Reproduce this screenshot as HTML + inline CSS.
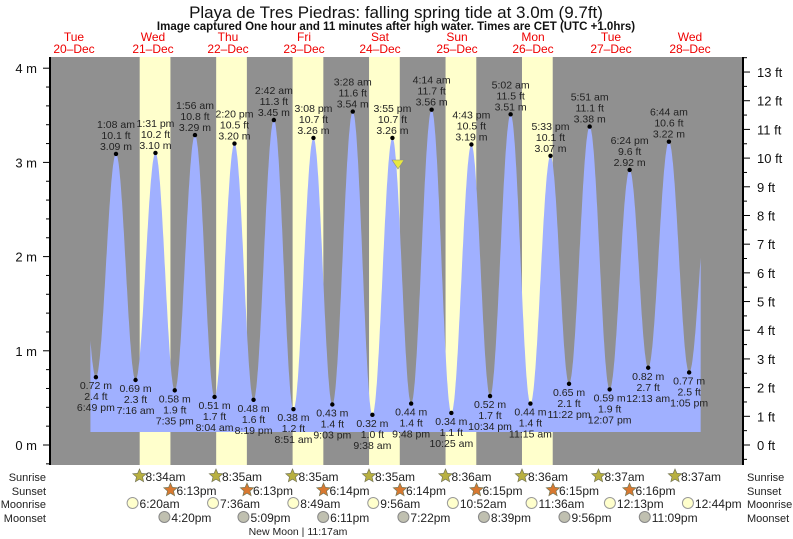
<!DOCTYPE html>
<html><head><meta charset="utf-8"><style>body{margin:0;background:#fff}svg{display:block;font-family:"Liberation Sans",sans-serif}</style></head>
<body><svg id="s" width="793" height="539" xmlns="http://www.w3.org/2000/svg"></svg>
<script>
const s=document.getElementById('s');let h='';
const X=t=>112.4+t*3.185;
const Y=m=>445-m*94.2;
h+='<rect x="50" y="57" width="693" height="408" fill="#909090"/>';
const sr=[8.57,8.58,8.58,8.58,8.6,8.6,8.62],ss=[18.22,18.22,18.23,18.23,18.25,18.25];
for(let d=0;d<6;d++){const a=X(d*24+sr[d]),b=X(d*24+ss[d]);h+=`<rect x="${a}" y="57" width="${b-a}" height="408" fill="#ffffcc"/>`;}
const ex=[[-5.18,.72,0],[1.13,3.09,1],[7.27,.69,0],[13.52,3.10,1],[19.58,.58,0],[25.93,3.29,1],[32.07,.51,0],[38.33,3.20,1],[44.32,.48,0],[50.7,3.45,1],[56.85,.38,0],[63.13,3.26,1],[69.05,.43,0],[75.47,3.54,1],[81.63,.32,0],[87.92,3.26,1],[93.8,.44,0],[100.23,3.56,1],[106.42,.34,0],[112.72,3.19,1],[118.57,.52,0],[125.03,3.51,1],[131.25,.44,0],[137.55,3.07,1],[143.37,.65,0],[149.85,3.38,1],[156.12,.59,0],[162.4,2.92,1],[168.22,.82,0],[174.73,3.22,1],[181.08,.77,0]];
const lab=[["6:49 pm","2.4 ft"],["1:08 am","10.1 ft"],["7:16 am","2.3 ft"],["1:31 pm","10.2 ft"],["7:35 pm","1.9 ft"],["1:56 am","10.8 ft"],["8:04 am","1.7 ft"],["2:20 pm","10.5 ft"],["8:19 pm","1.6 ft"],["2:42 am","11.3 ft"],["8:51 am","1.2 ft"],["3:08 pm","10.7 ft"],["9:03 pm","1.4 ft"],["3:28 am","11.6 ft"],["9:38 am","1.0 ft"],["3:55 pm","10.7 ft"],["9:48 pm","1.4 ft"],["4:14 am","11.7 ft"],["10:25 am","1.1 ft"],["4:43 pm","10.5 ft"],["10:34 pm","1.7 ft"],["5:02 am","11.5 ft"],["11:15 am","1.4 ft"],["5:33 pm","10.1 ft"],["11:22 pm","2.1 ft"],["5:51 am","11.1 ft"],["12:07 pm","1.9 ft"],["6:24 pm","9.6 ft"],["12:13 am","2.7 ft"],["6:44 am","10.6 ft"],["1:05 pm","2.5 ft"]];
const t0=-6.9,t1=184.7;
function hAt(t){for(let i=0;i<ex.length-1;i++){const a=ex[i],b=ex[i+1];if(t>=a[0]&&t<=b[0]){const f=(t-a[0])/(b[0]-a[0]);return a[1]+(b[1]-a[1])*(1-Math.cos(Math.PI*f))/2;}}
 if(t<ex[0][0]){const b=ex[0],a=[b[0]-6.2,2.9];const f=(t-a[0])/(b[0]-a[0]);return a[1]+(b[1]-a[1])*(1-Math.cos(Math.PI*f))/2;}
 const a=ex[ex.length-1],b=[a[0]+6.3,2.75];const f=(t-a[0])/(b[0]-a[0]);return a[1]+(b[1]-a[1])*(1-Math.cos(Math.PI*f))/2;}
let p=`M${X(t0)} 432`;for(let t=t0;t<=t1;t+=0.1)p+=`L${X(t).toFixed(1)} ${Y(hAt(t)).toFixed(1)}`;p+=`L${X(t1)} 432Z`;
h+=`<path d="${p}" fill="#a0b0ff"/>`;
h+='<g font-size="10.5" fill="#222" text-anchor="middle">';
ex.forEach((e,i)=>{const x=X(e[0]),y=Y(e[1]);h+=`<circle cx="${x}" cy="${y}" r="2.2" fill="#000"/>`;
 if(e[2])h+=`<text x="${x}" y="${y-26}">${lab[i][0]}</text><text x="${x}" y="${y-15}">${lab[i][1]}</text><text x="${x}" y="${y-4}">${e[1].toFixed(2)} m</text>`;
 else h+=`<text x="${x}" y="${y+12}">${e[1].toFixed(2)} m</text><text x="${x}" y="${y+23}">${lab[i][1]}</text><text x="${x}" y="${y+34}">${lab[i][0]}</text>`;});
h+='</g>';
h+='<path d="M392 160L404 160L398 169Z" fill="#e8e840" stroke="#888" stroke-width=".6"/>';
h+='<line x1="50" y1="57" x2="50" y2="465" stroke="#000" stroke-width="2"/><line x1="743" y1="57" x2="743" y2="465" stroke="#000" stroke-width="2"/>';
h+='<g font-size="13" fill="#111">';
for(let i=-1;i<=20;i++){const y=Y(i*0.2);if(y<57||y>465)continue;const mj=i%5==0;h+=`<line x1="${mj?43:46}" y1="${y}" x2="50" y2="${y}" stroke="#000"/>`;if(mj)h+=`<text x="37" y="${y+5}" text-anchor="end">${i/5} m</text>`;}
for(let i=-1;i<=27;i++){const y=445-i*0.5*28.69;if(y<57||y>465)continue;const mj=i%2==0;h+=`<line x1="743" y1="${y}" x2="${mj?750:747}" y2="${y}" stroke="#000"/>`;if(mj)h+=`<text x="757" y="${y+5}">${i/2} ft</text>`;}
h+='</g>';
h+='<text x="396" y="18" font-size="17" text-anchor="middle" fill="#111">Playa de Tres Piedras: falling  spring tide at 3.0m (9.7ft)</text>';
h+='<text x="396" y="30" font-size="11.5" font-weight="bold" text-anchor="middle" fill="#111">Image captured One hour and 11 minutes after high water. Times are CET (UTC +1.0hrs)</text>';
const dn=["Tue","Wed","Thu","Fri","Sat","Sun","Mon","Tue","Wed"];
dn.forEach((d,i)=>{const x=[74,153,228,304,380,457,533,611,690][i];h+=`<text x="${x}" y="41" font-size="12" fill="#e00" text-anchor="middle">${d}</text><text x="${x}" y="53" font-size="12" fill="#e00" text-anchor="middle">${20+i}&#8211;Dec</text>`;});
h+='<g font-size="12" fill="#222">';
[["Sunrise",481],["Sunset",495],["Moonrise",508],["Moonset",522]].forEach(r=>{h+=`<text x="46" y="${r[1]}" text-anchor="end" font-size="11">${r[0]}</text><text x="747" y="${r[1]}" font-size="11">${r[0]}</text>`;});
function star(cx,cy,c){let d='';for(let k=0;k<10;k++){const r=k%2?3.2:7,a=-Math.PI/2+k*Math.PI/5;d+=(k?'L':'M')+(cx+r*Math.cos(a)).toFixed(1)+' '+(cy+r*Math.sin(a)).toFixed(1);}return `<path d="${d}Z" fill="${c}" stroke="#775" stroke-width=".7"/>`;}
const srt=["8:34am","8:35am","8:35am","8:35am","8:36am","8:36am","8:37am","8:37am"];
srt.forEach((t,i)=>{const x=139.5+i*76.5;h+=star(x,476,"#b8b040")+`<text x="${x+6}" y="481">${t}</text>`;});
const sst=["6:13pm","6:13pm","6:14pm","6:14pm","6:15pm","6:15pm","6:16pm"];
sst.forEach((t,i)=>{const x=170.5+i*76.5;h+=star(x,490,"#d87830")+`<text x="${x+6}" y="495">${t}</text>`;});
const mr=[["6:20am",6.33],["7:36am",31.6],["8:49am",56.8],["9:56am",81.9],["10:52am",106.9],["11:36am",131.6],["12:13pm",156.2],["12:44pm",180.7]];
mr.forEach(m=>{const x=X(m[1]);h+=`<circle cx="${x}" cy="503" r="5.5" fill="#ffffcc" stroke="#999"/><text x="${x+7}" y="508">${m[0]}</text>`;});
const ms=[["4:20pm",16.33],["5:09pm",41.15],["6:11pm",66.18],["7:22pm",91.37],["8:39pm",116.65],["9:56pm",141.93],["11:09pm",167.15]];
ms.forEach(m=>{const x=X(m[1]);h+=`<circle cx="${x}" cy="517" r="5.5" fill="#c0c0b0" stroke="#888"/><text x="${x+7}" y="522">${m[0]}</text>`;});
h+='<text x="298" y="535" font-size="10.5" text-anchor="middle">New Moon | 11:17am</text></g>';
s.innerHTML=h;
</script></body></html>
